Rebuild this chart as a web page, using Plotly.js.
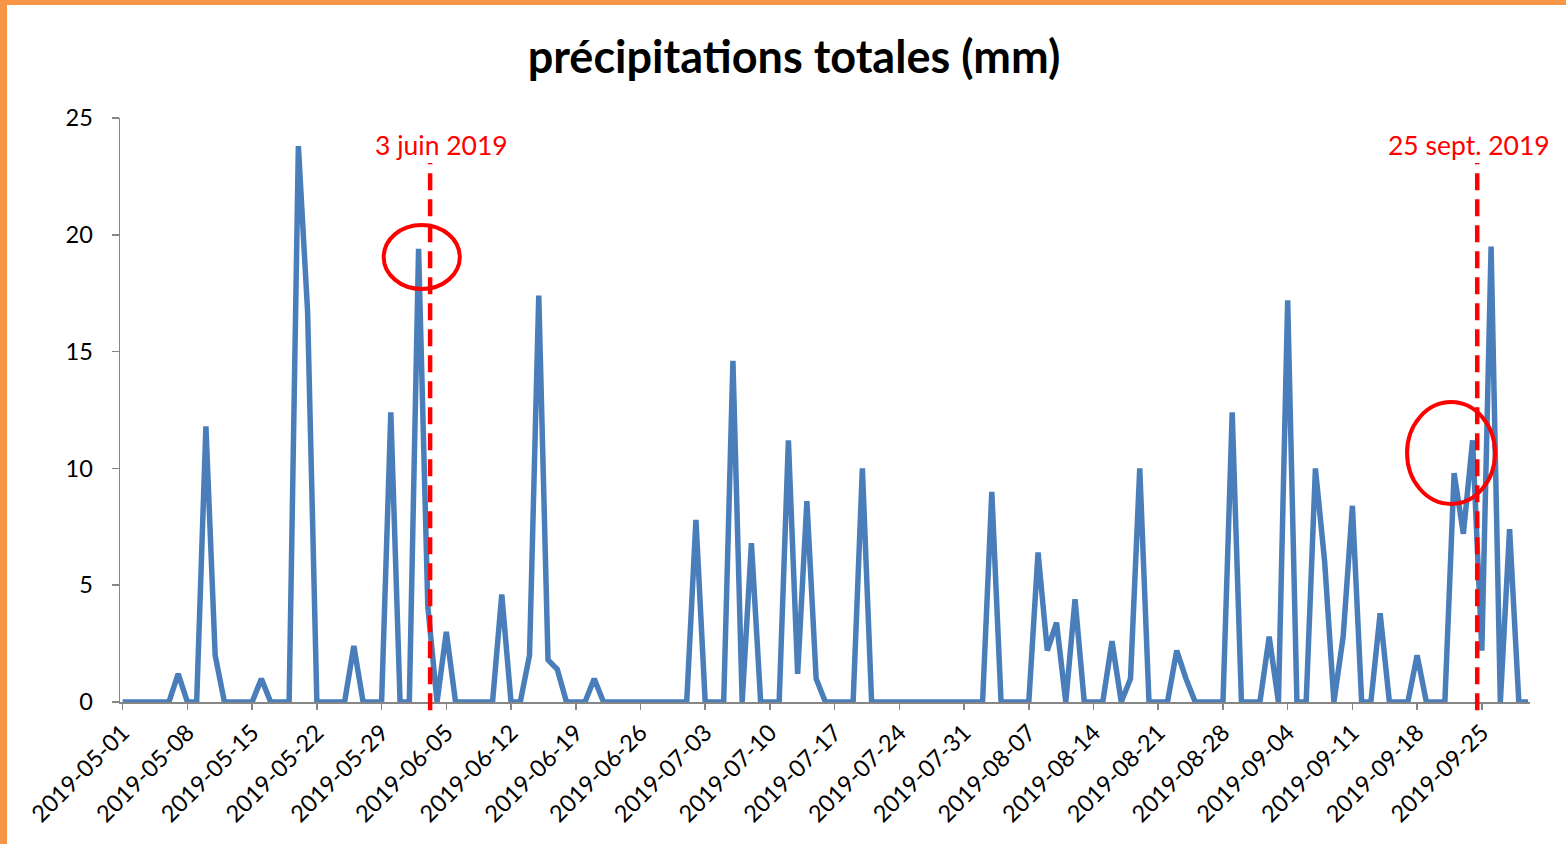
<!DOCTYPE html>
<html>
<head>
<meta charset="utf-8">
<script src="https://cdn.plot.ly/plotly-3.0.1.min.js"></script>
<style>
  html, body { margin: 0; padding: 0; background: #ffffff; }
  #wrap { position: relative; width: 1566px; height: 844px; overflow: hidden; }
  #chart { position: absolute; left: 0; top: 0; width: 1566px; height: 844px; }
  .edge { position: absolute; background: #F79646; z-index: 5; }
</style>
</head>
<body>
<div id="wrap">
  <div id="chart"></div>
  <div class="edge" style="left:0;top:0;width:7px;height:844px;"></div>
  <div class="edge" style="left:0;top:0;width:1566px;height:5px;"></div>
</div>
<script>
// Daily total precipitation (mm), 2019-05-01 .. 2019-09-30
const startDate = '2019-05-01';
const precipitation = [
  0, 0, 0, 0, 0, 0, 1.2, 0, 0, 11.8,          // May 1-10
  2.0, 0, 0, 0, 0, 1.0, 0, 0, 0, 23.8,        // May 11-20
  16.7, 0, 0, 0, 0, 2.4, 0, 0, 0, 12.4,       // May 21-30
  0, 0, 19.4, 4.1, 0, 3.0, 0, 0, 0, 0,        // May 31 - Jun 9
  0, 4.6, 0, 0, 2.0, 17.4, 1.8, 1.4, 0, 0,    // Jun 10-19
  0, 1.0, 0, 0, 0, 0, 0, 0, 0, 0,             // Jun 20-29
  0, 0, 7.8, 0, 0, 0, 14.6, 0, 6.8, 0,        // Jun 30 - Jul 9
  0, 0, 11.2, 1.2, 8.6, 1.0, 0, 0, 0, 0,      // Jul 10-19
  10.0, 0, 0, 0, 0, 0, 0, 0, 0, 0,            // Jul 20-29
  0, 0, 0, 0, 9.0, 0, 0, 0, 0, 6.4,           // Jul 30 - Aug 8
  2.2, 3.4, 0, 4.4, 0, 0, 0, 2.6, 0, 1.0,     // Aug 9-18
  10.0, 0, 0, 0, 2.2, 1.0, 0, 0, 0, 0,        // Aug 19-28
  12.4, 0, 0, 0, 2.8, 0, 17.2, 0, 0, 10.0,    // Aug 29 - Sep 7
  6.0, 0, 2.8, 8.4, 0, 0, 3.8, 0, 0, 0,       // Sep 8-17
  2.0, 0, 0, 0, 9.8, 7.2, 11.2, 2.2, 19.5, 0, // Sep 18-27
  7.4, 0, 0                                   // Sep 28-30
];
const tickDates = [
  '2019-05-01', '2019-05-08', '2019-05-15', '2019-05-22', '2019-05-29',
  '2019-06-05', '2019-06-12', '2019-06-19', '2019-06-26', '2019-07-03',
  '2019-07-10', '2019-07-17', '2019-07-24', '2019-07-31', '2019-08-07',
  '2019-08-14', '2019-08-21', '2019-08-28', '2019-09-04', '2019-09-11',
  '2019-09-18', '2019-09-25'
];
const yTicks = [0, 5, 10, 15, 20, 25];
const markerLabels = ['3 juin 2019', '25 sept. 2019'];
const markerDates = ['2019-06-03 06:00', '2019-09-24 12:00'];

// consecutive day dates for the series
const dates = precipitation.map((_, i) => {
  const d = new Date(startDate + 'T00:00:00Z');
  d.setUTCDate(d.getUTCDate() + i);
  return d.toISOString().slice(0, 10);
});

const FONT = 'Lato, "Open Sans", "DejaVu Sans", sans-serif';
const AXIS = '#868686';

const trace = {
  type: 'scatter',
  mode: 'lines',
  x: dates,
  y: precipitation,
  line: { color: '#4A7EBB', width: 5.5 },
  cliponaxis: false,
  hoverinfo: 'x+y'
};

const redLine = (x) => ({
  type: 'line', xref: 'x', yref: 'paper',
  x0: x, x1: x, y0: -0.014, y1: 0.923,
  line: { color: '#FF0000', width: 4.5, dash: '17px,9px' },
  layer: 'above'
});

const layout = {
  width: 1566, height: 844,
  margin: { l: 120, r: 36, t: 118, b: 142 },
  paper_bgcolor: '#ffffff',
  plot_bgcolor: '#ffffff',
  showlegend: false,
  font: { family: FONT, color: '#000000' },
  title: {
    text: '<b>précipitations totales (mm)</b>',
    font: { family: FONT, size: 45, color: '#000000' },
    x: 0.478, xref: 'paper', xanchor: 'center',
    y: 0.932, yref: 'container', yanchor: 'middle'
  },
  xaxis: {
    type: 'date',
    range: ['2019-04-30 17:00', '2019-09-30 05:00'],
    tickmode: 'array',
    tickvals: tickDates,
    ticktext: tickDates,
    tickangle: -45,
    ticks: 'outside', ticklen: 6, tickwidth: 1.5, tickcolor: AXIS,
    showline: true, linecolor: AXIS, linewidth: 1.5,
    showgrid: false, zeroline: false,
    tickfont: { family: FONT, size: 23.5, color: '#000000' }
  },
  yaxis: {
    range: [0, 25],
    tickmode: 'array',
    tickvals: yTicks,
    ticks: 'outside', ticklen: 7, tickwidth: 1.5, tickcolor: AXIS,
    ticklabelstandoff: 14,
    showline: true, linecolor: AXIS, linewidth: 1.5,
    showgrid: false, zeroline: false,
    tickfont: { family: FONT, size: 23.5, color: '#000000' }
  },
  shapes: [
    redLine(markerDates[0]),
    redLine(markerDates[1]),
    { type: 'circle', xref: 'paper', yref: 'y',
      x0: 0.187, x1: 0.241, y0: 17.68, y1: 20.42,
      line: { color: '#FF0000', width: 4 }, layer: 'above' },
    { type: 'circle', xref: 'paper', yref: 'y',
      x0: 0.9128, x1: 0.9752, y0: 8.48, y1: 12.84,
      line: { color: '#FF0000', width: 4 }, layer: 'above' }
  ],
  annotations: [
    { text: markerLabels[0], xref: 'paper', yref: 'paper', x: 0.2277, y: 0.954,
      xanchor: 'center', yanchor: 'middle', showarrow: false,
      font: { family: FONT, size: 26.5, color: '#FF0000' } },
    { text: markerLabels[1], xref: 'paper', yref: 'paper', x: 0.9567, y: 0.954,
      xanchor: 'center', yanchor: 'middle', showarrow: false,
      font: { family: FONT, size: 26.5, color: '#FF0000' } }
  ]
};

Plotly.newPlot('chart', [trace], layout, { displayModeBar: false, staticPlot: true });
</script>
</body>
</html>
